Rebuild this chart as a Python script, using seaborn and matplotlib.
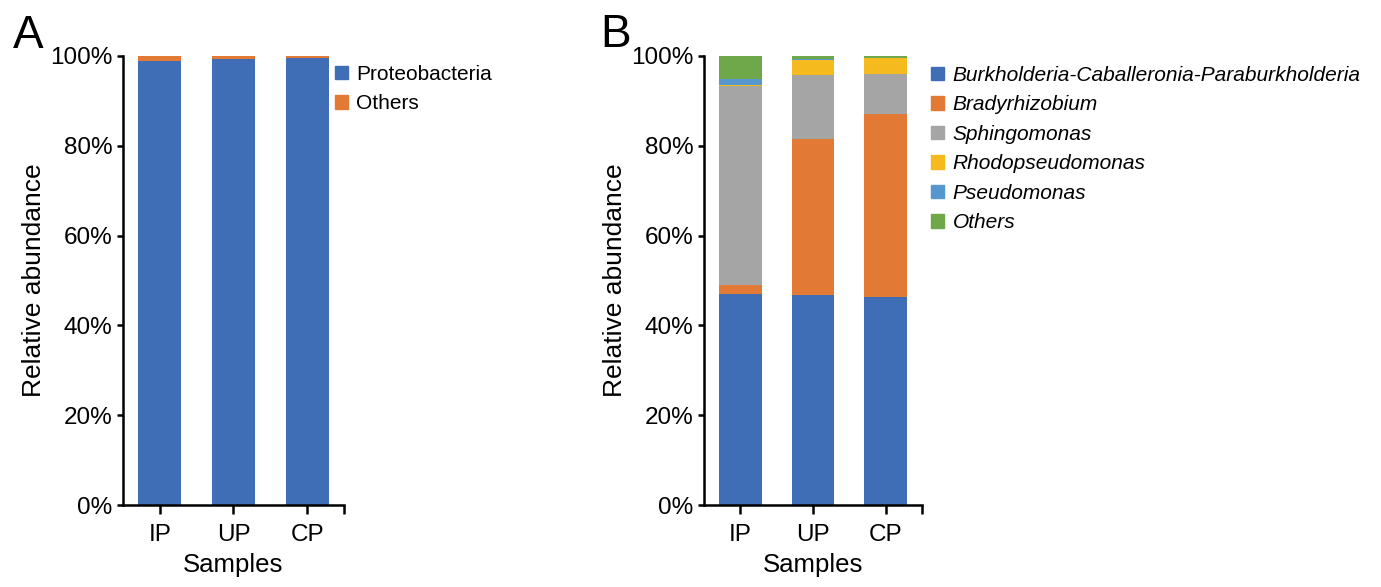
import pandas as pd
import matplotlib
matplotlib.use("Agg")
import matplotlib.pyplot as plt
from matplotlib.patches import Patch
from matplotlib.ticker import FuncFormatter
import seaborn as sns

samples = ["IP", "UP", "CP"]

# panel A: phylum level
phyla = ["Proteobacteria", "Others"]
proteobacteria = [98.9, 99.3, 99.6]
phylum_others = [1.1, 0.7, 0.4]
phylum_colors = ["#3F6DB6", "#E27934"]

# panel B: genus level
genera = ["Burkholderia-Caballeronia-Paraburkholderia", "Bradyrhizobium",
          "Sphingomonas", "Rhodopseudomonas", "Pseudomonas", "Others"]
burkholderia = [47.1, 46.7, 46.4]
bradyrhizobium = [2.0, 34.8, 40.7]
sphingomonas = [44.2, 14.3, 8.8]
rhodopseudomonas = [0.2, 3.4, 3.6]
pseudomonas = [1.4, 0.1, 0.1]
genus_others = [5.1, 0.7, 0.4]
genus_colors = ["#3F6DB6", "#E27934", "#A5A5A5", "#F5BA1D", "#5697D0", "#6EA84A"]

sns.set_style("ticks", rc={"axes.edgecolor": "black", "text.color": "black",
                           "axes.labelcolor": "black", "xtick.color": "black",
                           "ytick.color": "black"})
plt.rcParams["font.family"] = ["Liberation Sans", "DejaVu Sans"]


def long_table(names, series):
    rows = []
    for name, vals in zip(names, series):
        for s, v in zip(samples, vals):
            rows.append({"Sample": s, "Taxon": name, "Abundance": v})
    df = pd.DataFrame(rows)
    df["Taxon"] = pd.Categorical(df["Taxon"], categories=names, ordered=True)
    df = df.sort_values(["Sample", "Taxon"])
    df["Top"] = df.groupby("Sample")["Abundance"].cumsum()
    return df


def stacked(ax, df, names, colors):
    # draw cumulative tops from the highest layer down so lower layers cover them
    for name, col in reversed(list(zip(names, colors))):
        sub = df[df["Taxon"] == name]
        sns.barplot(data=sub, x="Sample", y="Top", order=samples, color=col,
                    saturation=1, width=0.585, errorbar=None, linewidth=0, ax=ax)
    ax.set_ylim(0, 100)
    ax.set_xlim(-0.5, 2.5)
    ax.set_yticks(range(0, 101, 20))
    ax.yaxis.set_major_formatter(FuncFormatter(lambda v, p: f"{v:.0f}%"))
    ax.set_xticks([0, 1, 2, 2.5])
    ax.set_xticklabels(samples + [""])
    ax.set_ylabel("Relative abundance", fontsize=19, labelpad=3)
    ax.set_xlabel("Samples", fontsize=18.5, labelpad=5)
    for side in ["top", "right"]:
        ax.spines[side].set_visible(False)
    for side in ["left", "bottom"]:
        ax.spines[side].set_linewidth(1.8)
    ax.tick_params(axis="y", labelsize=17.5, width=1.8, length=4.5, pad=3)
    ax.tick_params(axis="x", labelsize=17.5, width=1.8, length=6.5, pad=7)


fig = plt.figure(figsize=(13.81, 5.87), dpi=100)
axA = fig.add_axes([123 / 1381, 82 / 587, 221 / 1381, 449 / 587])
axB = fig.add_axes([704 / 1381, 82 / 587, 218 / 1381, 449 / 587])

dfA = long_table(phyla, [proteobacteria, phylum_others])
stacked(axA, dfA, phyla, phylum_colors)
dfB = long_table(genera, [burkholderia, bradyrhizobium, sphingomonas,
                          rhodopseudomonas, pseudomonas, genus_others])
stacked(axB, dfB, genera, genus_colors)

legend_kw = dict(loc="upper left", frameon=False, borderpad=0, borderaxespad=0,
                 handlelength=0.63, handleheight=0.63, handletextpad=0.4,
                 labelspacing=0.5)
fig.legend(handles=[Patch(color=c, label=n) for n, c in zip(phyla, phylum_colors)],
           bbox_to_anchor=(335 / 1381, 1 - 65 / 587), prop={"size": 15}, **legend_kw)
fig.legend(handles=[Patch(color=c, label=n) for n, c in zip(genera, genus_colors)],
           bbox_to_anchor=(931 / 1381, 1 - 66 / 587),
           prop={"size": 15, "style": "italic"}, **legend_kw)

fig.text(13 / 1381, 1 - 48 / 587, "A", fontsize=33, va="baseline")
fig.text(600 / 1381, 1 - 47 / 587, "B", fontsize=33, va="baseline")

fig.savefig("out.png", dpi=100)
